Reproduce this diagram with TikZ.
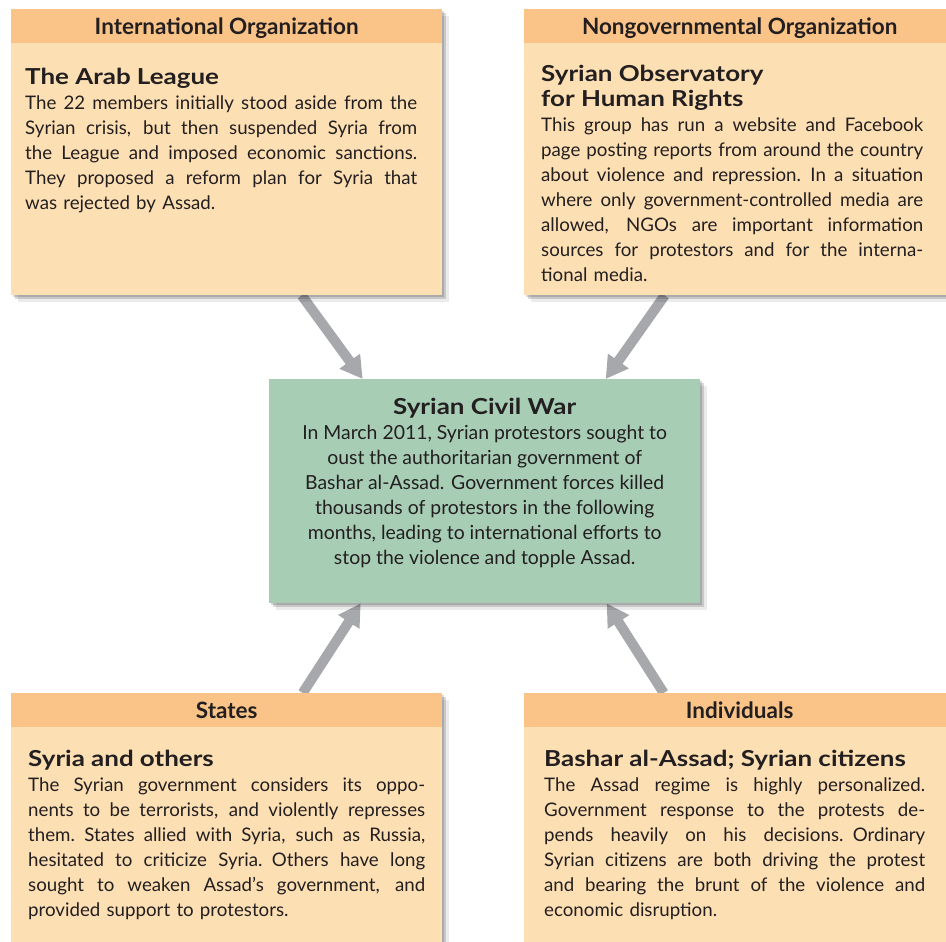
\documentclass[tikz,border=0pt]{standalone}
\usepackage{fontspec}
\setmainfont{Lato}
\newfontfamily\headfam{Lato}[FakeStretch=1.18]
\usetikzlibrary{positioning,arrows.meta,shadows,backgrounds}

\definecolor{headorange}{HTML}{FAC488}
\definecolor{panelpeach}{HTML}{FDDFB4}
\definecolor{wargreen}{HTML}{A7CDB5}
\definecolor{arrowgray}{HTML}{A7A8AC}
\definecolor{inkdark}{HTML}{231F20}

% one justified line, one plain line of a panel text
\newcommand{\jline}[1]{\par\noindent\hbox to\hsize{\spaceskip=\fontdimen2\font plus 1fil minus .06em\relax#1}}
\newcommand{\lline}[1]{\par\noindent\hbox{#1}}
\newcommand{\headfont}{\headfam\fontsize{22}{25}\selectfont\bfseries}

\begin{document}
\begin{tikzpicture}[
    x=1pt, y=-1pt,
    every node/.style={text=inkdark},
    panel/.style={rectangle, fill=panelpeach, inner sep=0pt, anchor=north west,
        minimum width=431pt, minimum height=286pt,
        drop shadow={shadow xshift=7pt, shadow yshift=-7pt, fill=black, opacity=.08},
        drop shadow={shadow xshift=4pt, shadow yshift=-4pt, fill=black, opacity=.15},
        drop shadow={shadow xshift=2pt, shadow yshift=-2pt, fill=black, opacity=.15}},
    header/.style={rectangle, fill=headorange, inner sep=0pt, anchor=north,
        minimum width=431pt, minimum height=34pt, text height=21pt, text depth=4.6pt,
        font=\fontsize{22.5}{24}\selectfont\bfseries},
    blurb/.style={anchor=north west, inner sep=0pt, font=\fontsize{18.7}{25}\selectfont},
    link/.style={line width=10pt, arrowgray, -{Triangle[length=22pt, width=24pt]}}
]
    \useasboundingbox (0,0) rectangle (946,942);
    \clip (0,0) rectangle (946,942);

    % ==========================
    % TOP: International Organization
    % ==========================
    \node[panel] (intl) at (11,9) {};
    \node[header] (intl-head) at (intl.north) {International Organization};
    \node[blurb, text width=392pt] (intl-text) at ([xshift=14pt, yshift=-50pt]intl.north west) {%
        \lline{\headfont The Arab League}
        \jline{The 22 members initially stood aside from the}
        \jline{Syrian crisis, but then suspended Syria from}
        \jline{the League and imposed economic sanctions.}
        \jline{They proposed a reform plan for Syria that}
        \lline{was rejected by Assad.}};

    % ==========================
    % TOP: Nongovernmental Organization
    % ==========================
    \node[panel] (ngo) at (524,9) {};
    \node[header] (ngo-head) at (ngo.north) {Nongovernmental Organization};
    \node[blurb, text width=382pt] (ngo-text) at ([xshift=17pt, yshift=-47.5pt]ngo.north west) {%
        \lline{\headfont Syrian Observatory}
        \lline{\headfont for Human Rights}
        \jline{This group has run a website and Facebook}
        \jline{page posting reports from around the country}
        \jline{about violence and repression. In a situation}
        \jline{where only government-controlled media are}
        \jline{allowed, NGOs are important information}
        \jline{sources for protestors and for the interna-}
        \lline{tional media.}};

    % ==========================
    % CENTER: Syrian Civil War
    % ==========================
    \node[panel, fill=wargreen, minimum height=224pt] (war) at (269,379) {};
    \node[blurb, anchor=north, align=center, font=\fontsize{19.4}{25}\selectfont]
        (war-text) at ([yshift=-18.5pt]war.north) {%
        {\headfont Syrian Civil War}\\
        In March 2011, Syrian protestors sought to\\
        oust the authoritarian government of\\
        Bashar al-Assad. Government forces killed\\
        thousands of protestors in the following\\
        months, leading to international efforts to\\
        stop the violence and topple Assad.};

    % ==========================
    % BOTTOM: States
    % ==========================
    \node[panel] (states) at (11,693) {};
    \node[header] (states-head) at (states.north) {States};
    \node[blurb, text width=397pt] (states-text) at ([xshift=17pt, yshift=-48.5pt]states.north west) {%
        \lline{\headfont Syria and others}
        \jline{The Syrian government considers its oppo-}
        \jline{nents to be terrorists, and violently represses}
        \jline{them. States allied with Syria, such as Russia,}
        \jline{hesitated to criticize Syria. Others have long}
        \jline{sought to weaken Assad’s government, and}
        \lline{provided support to protestors.}};

    % ==========================
    % BOTTOM: Individuals
    % ==========================
    \node[panel] (indiv) at (524,693) {};
    \node[header] (indiv-head) at (indiv.north) {Individuals};
    \node[blurb, text width=381pt] (indiv-text) at ([xshift=20pt, yshift=-48.5pt]indiv.north west) {%
        \lline{\headfont Bashar al-Assad; Syrian citizens}
        \jline{The Assad regime is highly personalized.}
        \jline{Government response to the protests de-}
        \jline{pends heavily on his decisions. Ordinary}
        \jline{Syrian citizens are both driving the protest}
        \jline{and bearing the brunt of the violence and}
        \lline{economic disruption.}};

    % arrows run under the panels
    \begin{pgfonlayer}{background}
        \foreach \from/\fa/\fx/\ta/\tx in {
            intl/south/75/north/-122,
            ngo/south/-75/north/121,
            states/north/76/south/-124,
            indiv/north/-76/south/122}
        {
            \draw[link] ([xshift=\fx pt]\from.\fa) -- ([xshift=\tx pt]war.\ta);
        }
    \end{pgfonlayer}

\end{tikzpicture}
\end{document}
